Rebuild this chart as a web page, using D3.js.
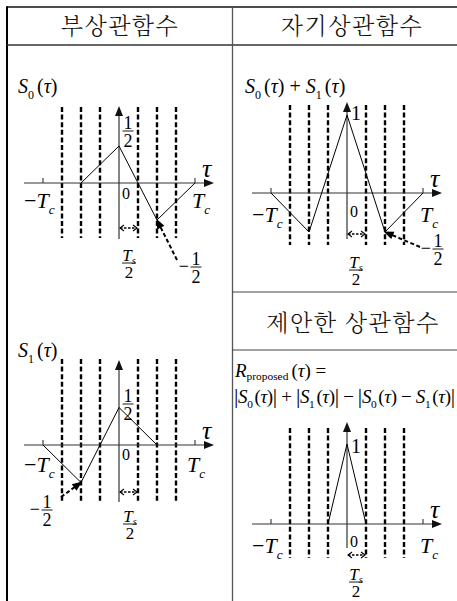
<!DOCTYPE html>
<html><head><meta charset="utf-8">
<script src="https://cdn.jsdelivr.net/npm/d3@7"></script>
<style>
html,body{margin:0;padding:0;background:#fff;}
svg{display:block;}
</style></head><body>
<script>
// ---- data ----
const panelTitles = ["부상관함수", "자기상관함수", "제안한 상관함수"];
const chipTicks = [-4, 4];                 // ±Tc, in units of Ts/2
const boundaryTaus = [-3, -2, -1, 1, 2, 3]; // dashed sampling boundaries
const s0Tau = [-2, 0, 1, 2, 4];
const s0Val = [0, 0.5, 0, -0.5, 0];
const s1Tau = [-4, -2, 0, 2];
const s1Val = [0, -0.5, 0.5, 0];
const sumTau = [-4, -2, 0, 2, 4];
const sumVal = [0, -0.5, 1, -0.5, 0];
const propTau = [-1, 0, 1];
const propVal = [0, 1, 0];

const SERIF = "'Liberation Serif', 'Times New Roman', 'DejaVu Serif', serif";
const KR = "'Noto Serif CJK KR', 'Noto Sans CJK KR', sans-serif";
const W = 457, H = 601;
const svg = d3.select("body").append("svg").attr("width", W).attr("height", H);

// ---- table frame ----
const frame = svg.append("g");
frame.append("line").attr("x1",7).attr("y1",7).attr("x2",W).attr("y2",7).attr("stroke","#111").attr("stroke-width",1.6);
frame.append("line").attr("x1",7).attr("y1",6.2).attr("x2",7).attr("y2",H).attr("stroke","#000").attr("stroke-width",2);
frame.append("line").attr("x1",7).attr("y1",45).attr("x2",W).attr("y2",45).attr("stroke","#333").attr("stroke-width",1.3);
frame.append("line").attr("x1",232.5).attr("y1",7).attr("x2",232.5).attr("y2",H).attr("stroke","#555").attr("stroke-width",1.3);
frame.append("line").attr("x1",232).attr("y1",292).attr("x2",W).attr("y2",292).attr("stroke","#444").attr("stroke-width",1.2);
frame.append("line").attr("x1",232).attr("y1",350).attr("x2",W).attr("y2",350).attr("stroke","#444").attr("stroke-width",1.2);

const titlePos = [[120,34],[352,34],[353,331]];
panelTitles.forEach((t,i)=>{
  svg.append("text").attr("font-family",KR).attr("font-weight",300).attr("fill","#111")
    .attr("x",titlePos[i][0]).attr("y",titlePos[i][1])
    .attr("text-anchor","middle").attr("font-size",23).attr("letter-spacing",1.5).text(t);
});

// ---- helpers ----
// parts: [text, kind, dx] kind: 'i' italic, 'r' roman, 's' subscript, 'si' italic subscript, 'b' big bar
function mtext(x, y, size, parts, anchor, subShift){
  const t = svg.append("text").attr("font-family",SERIF).attr("fill","#000").attr("x",x).attr("y",y)
    .attr("font-size",size).attr("text-anchor",anchor||"start");
  const sh = (subShift==null?0.28:subShift)*size;
  let sub = false;
  parts.forEach(([s,k,dx])=>{
    const sp = t.append("tspan").text(s);
    let dy = 0;
    if (k==='s'||k==='si'){
      if(!sub){dy = sh; sub=true;}
      sp.attr("font-size", size*0.6);
      if(k==='si') sp.attr("font-style","italic");
    } else {
      if(sub){dy = -sh; sub=false;}
      if(k==='i') sp.attr("font-style","italic");
      if(k==='b') sp.attr("font-size", size*1.15);
    }
    if(dy) sp.attr("dy", dy);
    if(dx) sp.attr("dx", dx);
  });
  return t;
}
function frac(cx, ly, size, num, den, numItalic, w){
  const g = svg.append("g");
  const n = g.append("text").attr("font-family",SERIF).attr("x",cx).attr("y",ly-2.5).attr("font-size",size).attr("text-anchor","middle");
  if(numItalic){
    n.append("tspan").attr("font-style","italic").text(num[0]);
    n.append("tspan").attr("font-size",size*0.6).attr("font-style","italic").attr("dy",size*0.22).text(num[1]);
  } else n.text(num);
  g.append("line").attr("x1",cx-(w||5)).attr("x2",cx+(w||5)).attr("y1",ly).attr("y2",ly).attr("stroke","#000").attr("stroke-width",0.9);
  g.append("text").attr("font-family",SERIF).attr("x",cx).attr("y",ly+size*0.9).attr("font-size",size).attr("text-anchor","middle").text(den);
}
function filledHead(g, x1, y1, x2, y2, len, hw, col){
  const a = Math.atan2(y2-y1, x2-x1);
  const bx = x2 - len*Math.cos(a), by = y2 - len*Math.sin(a);
  const px = -Math.sin(a)*hw, py = Math.cos(a)*hw;
  g.append("path").attr("d",`M${x2},${y2}L${bx+px},${by+py}L${bx-px},${by-py}Z`).attr("fill",col||"#000");
}
function openHead(g, x1, y1, x2, y2, len, hw){
  const a = Math.atan2(y2-y1, x2-x1);
  const bx = x2 - len*Math.cos(a), by = y2 - len*Math.sin(a);
  const px = -Math.sin(a)*hw, py = Math.cos(a)*hw;
  g.append("path").attr("d",`M${bx+px},${by+py}L${x2},${y2}L${bx-px},${by-py}`)
    .attr("fill","none").attr("stroke","#000").attr("stroke-width",1.1);
}

// ---- panel layouts ----
const panels = [
  {cx:119, cy:183, amp:74, yTop:106, yBot:239, dTop:107, dBot:238, tau:s0Tau, val:s0Val,
   tsY:228, zeroY:199, tcY:208, tcRX:192},
  {cx:347, cy:193, amp:78, yTop:102, yBot:239, dTop:105, dBot:245, tau:sumTau, val:sumVal,
   tsY:234, zeroY:217, tcY:222, tcRX:420},
  {cx:119, cy:445, amp:75, yTop:360, yBot:502, dTop:359, dBot:502, tau:s1Tau, val:s1Val,
   tsY:492, zeroY:460, tcY:472, tcRX:187},
  {cx:347, cy:524, amp:80, yTop:422, yBot:548, dTop:428, dBot:558, tau:propTau, val:propVal,
   tsY:555, zeroY:547, tcY:553, tcRX:420}
];

panels.forEach((p,i)=>{
  const g = svg.append("g");
  const x = d3.scaleLinear().domain([-4,4]).range([p.cx-76, p.cx+76]);
  const y = d3.scaleLinear().domain([0,1]).range([p.cy, p.cy-p.amp]);
  p.x = x; p.y = y;
  g.selectAll("line.b").data(boundaryTaus).join("line").attr("class","b")
    .attr("x1",d=>x(d)).attr("x2",d=>x(d)).attr("y1",p.dTop).attr("y2",p.dBot)
    .attr("stroke","#000").attr("stroke-width",2.4).attr("stroke-dasharray","5,2.6");
  const xL = x(-5), xR = x(5);
  g.append("line").attr("x1",xL).attr("x2",xR-6).attr("y1",p.cy).attr("y2",p.cy).attr("stroke","#333").attr("stroke-width",1.2);
  filledHead(g, xL, p.cy, xR, p.cy, 10, 4, "#111");
  g.append("line").attr("x1",p.cx).attr("x2",p.cx).attr("y1",p.yBot).attr("y2",p.yTop+6).attr("stroke","#333").attr("stroke-width",1.2);
  filledHead(g, p.cx, p.yBot, p.cx, p.yTop, 10, 4, "#111");
  g.selectAll("line.t").data(chipTicks).join("line").attr("class","t")
    .attr("x1",d=>x(d)).attr("x2",d=>x(d)).attr("y1",p.cy-5).attr("y2",p.cy).attr("stroke","#333").attr("stroke-width",1.1);
  g.append("path").datum(p.tau.map((t,k)=>[t,p.val[k]]))
    .attr("d", d3.line().x(d=>x(d[0])).y(d=>y(d[1])))
    .attr("fill","none").attr("stroke","#000").attr("stroke-width",1);
  g.append("line").attr("x1",x(0)+1).attr("x2",x(1)-1).attr("y1",p.tsY).attr("y2",p.tsY)
    .attr("stroke","#000").attr("stroke-width",1.4).attr("stroke-dasharray","2.5,1.5");
  openHead(g, x(1), p.tsY, x(0)+1, p.tsY, 4, 3);
  openHead(g, x(0), p.tsY, x(1)-1, p.tsY, 4, 3);
  mtext(p.cx+3, p.zeroY, 16, [["0","r"]]);
  mtext(x(-4)-19, p.tcY, 22, [["\u2212","r"],["T","i"],["c","si"]]);
  mtext(p.tcRX, p.tcY, 22, [["T","i"],["c","si"]]);
  mtext(x(5)-12, p.cy-6, 26, [["\u03c4","i"]]);
});

const tsFrac = [[129,263],[356,270],[130,524],[356,582]];
tsFrac.forEach(([cx,ly])=>frac(cx, ly, 17, ["T","s"], "2", true, 7));

frac(128, 131, 18, "1", "2", false, 5.5);
frac(128, 404, 18, "1", "2", false, 5.5);
mtext(351, 120, 20, [["1","r"]]);
mtext(351, 453, 20, [["1","r"]]);

function minusHalf(px, p, val, cx, ly, sx, sy){
  frac(cx, ly, 18, "1", "2", false, 5.5);
  svg.append("text").attr("font-family",SERIF).attr("x",cx-7).attr("y",ly+5).attr("font-size",18).attr("text-anchor","end").text("\u2212");
  const g = svg.append("g");
  const tx = p.x(px), ty = p.y(val);
  const a = Math.atan2(ty-sy, tx-sx);
  g.append("line").attr("x1",sx).attr("y1",sy).attr("x2",tx-7*Math.cos(a)).attr("y2",ty-7*Math.sin(a))
    .attr("stroke","#000").attr("stroke-width",2).attr("stroke-dasharray","4,2.5");
  filledHead(g, sx, sy, tx+1.5*Math.cos(a), ty+1.5*Math.sin(a), 10, 4);
}
minusHalf(s0Tau[3], panels[0], s0Val[3], 196, 267, 177, 260);
minusHalf(sumTau[3], panels[1], sumVal[3], 438, 249, 420, 247);
minusHalf(s1Tau[1], panels[2], s1Val[1], 47, 510, 61, 497);

mtext(18, 93, 20, [["S","i"],["0","s"],["(","r",3],["\u03c4","i"],[")","r"]]);
mtext(18, 357, 20, [["S","i"],["1","s"],["(","r",3],["\u03c4","i"],[")","r"]]);
mtext(245, 93, 20, [["S","i"],["0","s"],["(","r",3],["\u03c4","i"],[") + ","r"],["S","i"],["1","s"],["(","r",3],["\u03c4","i"],[")","r"]]);
mtext(235, 377, 19, [["R","i"],["proposed","s"],["(","r",3],["\u03c4","i"],[") =","r"]], "start", 0.18);
const f = mtext(234, 403, 19, [["|","b"],["S","i"],["0","s"],["(","r",2],["\u03c4","i"],[")","r"],["|","b"],[" + ","r"],["|","b"],["S","i"],["1","s"],["(","r",2],["\u03c4","i"],[")","r"],["|","b"],[" \u2212 ","r"],["|","b"],["S","i"],["0","s"],["(","r",2],["\u03c4","i"],[") \u2212 ","r"],["S","i"],["1","s"],["(","r",2],["\u03c4","i"],[")","r"],["|","b"]]);
f.attr("textLength",221).attr("lengthAdjust","spacing");
</script>
</body></html>
